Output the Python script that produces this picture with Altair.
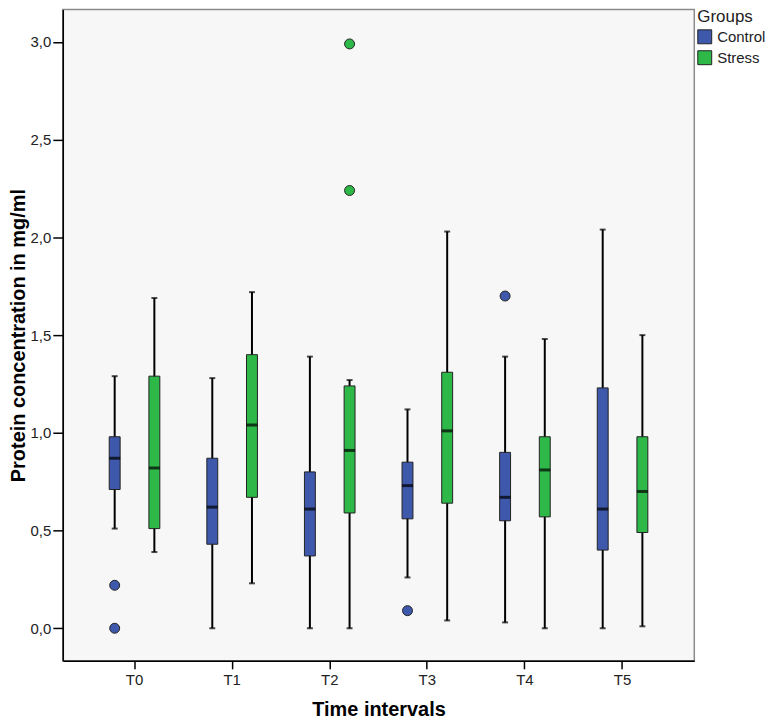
import altair as alt
import pandas as pd

times = ["T0", "T1", "T2", "T3", "T4", "T5"]
groups = ["Control", "Stress"]

control_low = [0.51, 0.00, 0.00, 0.26, 0.03, 0.00]
control_q1 = [0.71, 0.43, 0.37, 0.56, 0.55, 0.40]
control_median = [0.87, 0.62, 0.61, 0.73, 0.67, 0.61]
control_q3 = [0.98, 0.87, 0.80, 0.85, 0.90, 1.23]
control_high = [1.29, 1.28, 1.39, 1.12, 1.39, 2.04]

stress_low = [0.39, 0.23, 0.00, 0.04, 0.00, 0.01]
stress_q1 = [0.51, 0.67, 0.59, 0.64, 0.57, 0.49]
stress_median = [0.82, 1.04, 0.91, 1.01, 0.81, 0.70]
stress_q3 = [1.29, 1.40, 1.24, 1.31, 0.98, 0.98]
stress_high = [1.69, 1.72, 1.27, 2.03, 1.48, 1.50]

outlier_time = ["T0", "T0", "T2", "T2", "T3", "T4"]
outlier_group = ["Control", "Control", "Stress", "Stress", "Control", "Control"]
outlier_value = [0.22, 0.00, 2.24, 2.99, 0.09, 1.70]

colors = ["#3E58AC", "#2EB848"]

stats = pd.DataFrame({
    "Time": times + times,
    "Group": ["Control"] * 6 + ["Stress"] * 6,
    "low": control_low + stress_low,
    "q1": control_q1 + stress_q1,
    "median": control_median + stress_median,
    "q3": control_q3 + stress_q3,
    "high": control_high + stress_high,
})
outliers = pd.DataFrame({"Time": outlier_time, "Group": outlier_group, "value": outlier_value})

ytitle = "Protein concentration in mg/ml"
yscale = alt.Scale(domain=[-1 / 6, 19 / 6], nice=False, zero=False)
yaxis = alt.Axis(
    title=ytitle, values=[0, 0.5, 1.0, 1.5, 2.0, 2.5, 3.0],
    labelExpr="replace(format(datum.value, '.1f'), '.', ',')",
    tickSize=10, labelPadding=2, titlePadding=2, grid=False,
)
x = alt.X("Time:N", sort=times, scale=alt.Scale(paddingInner=0, paddingOuter=0.235),
          axis=alt.Axis(title="Time intervals", labelAngle=0, tickSize=8, labelPadding=4, titlePadding=12))
xo = alt.XOffset("Group:N", sort=groups, scale=alt.Scale(paddingInner=0.725, paddingOuter=0.5925))

base = alt.Chart(stats)

whisk = base.mark_rule(color="black", strokeWidth=2).encode(
    x=x, xOffset=xo,
    y=alt.Y("low:Q", scale=yscale, axis=yaxis, title=ytitle),
    y2="high:Q",
)
cap_low = base.mark_tick(color="black", size=6, thickness=2).encode(
    x=x, xOffset=xo, y=alt.Y("low:Q", scale=yscale, title=ytitle))
cap_high = base.mark_tick(color="black", size=6, thickness=2).encode(
    x=x, xOffset=xo, y=alt.Y("high:Q", scale=yscale, title=ytitle))
box = base.mark_bar(stroke="#222222", strokeWidth=1).encode(
    x=x, xOffset=xo,
    y=alt.Y("q1:Q", scale=yscale, title=ytitle),
    y2="q3:Q",
    color=alt.Color("Group:N", scale=alt.Scale(domain=groups, range=colors),
                    legend=alt.Legend(title="Groups", symbolType="square")),
)
med = base.mark_tick(color="black", size=11, thickness=3).encode(
    x=x, xOffset=xo, y=alt.Y("median:Q", scale=yscale, title=ytitle))
pts = alt.Chart(outliers).mark_point(filled=True, size=100, stroke="#222222", strokeWidth=1, opacity=1).encode(
    x=x, xOffset=xo,
    y=alt.Y("value:Q", scale=yscale, title=ytitle),
    color=alt.Color("Group:N", scale=alt.Scale(domain=groups, range=colors), legend=None),
)

chart = alt.layer(whisk, cap_low, cap_high, box, med, pts).properties(
    width=634, height=654,
    padding={"left": 0, "top": 0, "right": 1, "bottom": 1},
    background="white",
).configure_view(
    fill="#F7F7F7", stroke="#8A8A8A", strokeWidth=1.5,
).configure_axis(
    labelFont="Liberation Sans", labelFontSize=15, labelColor="#222222",
    titleFont="Liberation Sans", titleFontSize=20, titleFontWeight="bold", titleColor="black",
    domainColor="black", domainWidth=1.5, tickColor="black", tickWidth=1.5,
).configure_legend(
    orient="right", offset=3, padding=0,
    titleFont="Liberation Sans", titleFontSize=17, titleFontWeight="normal", titleColor="#222222",
    titlePadding=3, labelFont="Liberation Sans", labelFontSize=15, labelColor="#222222",
    symbolSize=196, symbolStrokeColor="#222222", symbolStrokeWidth=1, symbolOpacity=1,
    rowPadding=2, labelOffset=5,
)

chart.save("out.html", embed_options={"renderer": "svg", "actions": False})
